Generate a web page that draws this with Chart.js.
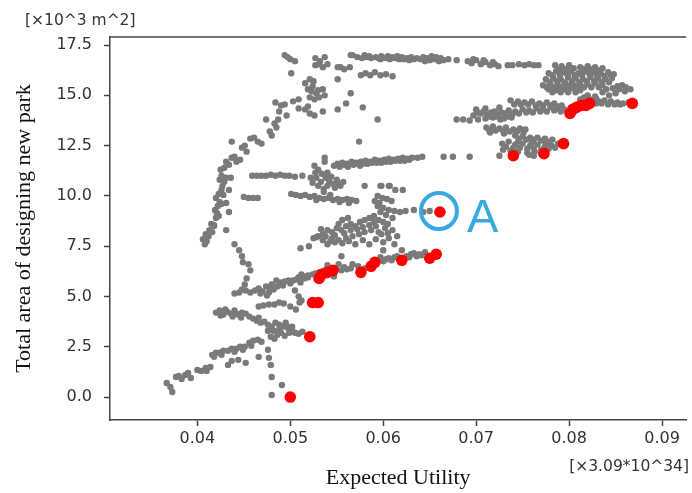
<!DOCTYPE html>
<html>
<head>
<meta charset="utf-8">
<script src="https://cdn.jsdelivr.net/npm/chart.js@4.4.1/dist/chart.umd.min.js"></script>
<style>
  html, body { margin: 0; padding: 0; background: #fff; }
</style>
</head>
<body>
<canvas id="chart" width="692" height="493"></canvas>
<script>
// Axis ticks and unit labels
const xTicks = [0.04, 0.05, 0.06, 0.07, 0.08, 0.09];
const yTicks = [0, 2.5, 5, 7.5, 10, 12.5, 15, 17.5];
const xUnit = '[×3.09*10^34]';
const yUnit = '[×10^3 m^2]';

// Highlighted solution "A"
const pointA = [0.0661, 9.2];

// Pareto (red) points
const redPoints = [
    [0.0500, 0.0], [0.0521, 3.0], [0.0524, 4.7], [0.0530, 4.7], [0.0531, 5.9],
    [0.0534, 6.1], [0.0540, 6.2], [0.0546, 6.3], [0.0576, 6.2], [0.0587, 6.5],
    [0.0591, 6.7], [0.0620, 6.8], [0.0650, 6.9], [0.0657, 7.1], [0.0661, 9.2],
    [0.0740, 12.0], [0.0773, 12.1], [0.0794, 12.6], [0.0801, 14.1], [0.0804, 14.3],
    [0.0808, 14.4], [0.0813, 14.5], [0.0818, 14.5], [0.0822, 14.6], [0.0868, 14.6]
];

// Gray solutions, grouped by the visible strands
const lowerArm = [
    [0.0367, 0.70], [0.0371, 0.50], [0.0373, 0.25], [0.0377, 1.00], [0.0380, 1.05],
    [0.0383, 0.90], [0.0387, 1.10], [0.0390, 1.20], [0.0393, 0.95], [0.0400, 1.35],
    [0.0404, 1.30], [0.0409, 1.45], [0.0410, 1.30], [0.0414, 1.50], [0.0416, 2.10],
    [0.0420, 2.20], [0.0424, 2.20], [0.0428, 2.30], [0.0433, 2.30], [0.0437, 2.40],
    [0.0442, 2.40], [0.0446, 2.50], [0.0451, 2.50], [0.0456, 2.70], [0.0460, 2.80],
    [0.0465, 2.85], [0.0469, 2.75], [0.0433, 1.60], [0.0437, 1.80], [0.0444, 1.85],
    [0.0452, 1.70], [0.0466, 2.00], [0.0418, 2.00], [0.0426, 2.10], [0.0440, 2.25],
    [0.0449, 2.35], [0.0458, 2.55]
];
const dropLine = [
    [0.0476, 2.35], [0.0477, 1.95], [0.0479, 1.60], [0.0480, 1.00], [0.0491, 0.60],
    [0.0480, 0.10]
];
const midLeft = [
    [0.0420, 4.20], [0.0424, 4.30], [0.0428, 4.10], [0.0432, 4.25], [0.0436, 4.15],
    [0.0440, 4.30], [0.0444, 4.10], [0.0448, 4.20], [0.0452, 4.15], [0.0456, 4.00],
    [0.0425, 4.05], [0.0438, 4.00], [0.0447, 3.95], [0.0460, 3.90], [0.0464, 3.80],
    [0.0468, 3.70], [0.0472, 3.75], [0.0476, 3.60], [0.0480, 3.50], [0.0484, 3.70],
    [0.0488, 3.60], [0.0492, 3.50], [0.0495, 3.70], [0.0498, 3.40], [0.0502, 3.30],
    [0.0505, 3.20], [0.0509, 3.15], [0.0476, 3.30], [0.0479, 3.00], [0.0483, 2.90],
    [0.0486, 3.10], [0.0490, 3.20], [0.0494, 3.05], [0.0499, 3.20], [0.0513, 3.25],
    [0.0430, 4.35], [0.0442, 4.15], [0.0466, 3.95], [0.0482, 3.30], [0.0488, 3.35],
    [0.0496, 3.55], [0.0502, 3.50]
];
const band46 = [
    [0.0466, 4.50], [0.0471, 4.55], [0.0477, 4.60], [0.0483, 4.60], [0.0488, 4.70],
    [0.0493, 4.65], [0.0500, 4.50], [0.0506, 4.35], [0.0510, 4.70]
];
const band55 = [
    [0.0452, 5.30], [0.0457, 5.20], [0.0462, 5.30], [0.0466, 5.40], [0.0470, 5.25],
    [0.0474, 5.50], [0.0478, 5.40], [0.0482, 5.35], [0.0486, 5.50], [0.0490, 5.70],
    [0.0494, 5.75], [0.0498, 5.80], [0.0503, 5.80], [0.0507, 5.85], [0.0511, 5.70],
    [0.0515, 5.90], [0.0519, 5.95], [0.0485, 5.80], [0.0480, 5.60], [0.0475, 5.05],
    [0.0445, 5.20], [0.0440, 5.15], [0.0468, 5.15], [0.0477, 5.20], [0.0492, 5.55],
    [0.0500, 5.65], [0.0509, 5.95]
];
const dotLine = [
    [0.0440, 7.60], [0.0445, 7.30], [0.0448, 7.00], [0.0449, 6.70], [0.0455, 6.60],
    [0.0457, 6.30], [0.0453, 5.90], [0.0451, 5.60], [0.0448, 5.35], [0.0505, 5.30],
    [0.0509, 5.00], [0.0512, 4.80]
];
const leftArm = [
    [0.0408, 7.60], [0.0406, 7.85], [0.0409, 8.10], [0.0412, 8.00], [0.0413, 8.30],
    [0.0415, 8.60], [0.0418, 8.50], [0.0420, 8.90], [0.0423, 9.00], [0.0419, 9.30],
    [0.0422, 9.50], [0.0424, 9.70], [0.0420, 9.90], [0.0423, 10.10], [0.0426, 10.30],
    [0.0427, 10.50], [0.0424, 10.80], [0.0426, 11.00], [0.0431, 10.90], [0.0436, 10.90],
    [0.0434, 10.30], [0.0431, 9.65], [0.0434, 9.20], [0.0425, 11.30], [0.0429, 11.40],
    [0.0431, 11.70], [0.0437, 11.90], [0.0442, 11.70], [0.0446, 11.80], [0.0448, 12.40],
    [0.0453, 12.20], [0.0437, 12.70], [0.0461, 12.90], [0.0465, 12.70], [0.0469, 12.60],
    [0.0474, 13.80], [0.0480, 13.00], [0.0485, 13.40], [0.0487, 13.80], [0.0496, 14.00],
    [0.0484, 14.65], [0.0490, 14.50], [0.0494, 14.55], [0.0431, 8.30], [0.0418, 8.55],
    [0.0410, 7.75], [0.0416, 8.20], [0.0421, 9.15], [0.0426, 9.60], [0.0428, 10.05],
    [0.0429, 10.70], [0.0434, 11.55], [0.0440, 11.95], [0.0451, 12.50], [0.0457, 12.85],
    [0.0478, 13.20], [0.0483, 13.60], [0.0488, 14.20]
];
const upperLeft = [
    [0.0494, 17.00], [0.0497, 16.90], [0.0500, 16.80], [0.0505, 16.70], [0.0501, 16.10],
    [0.0527, 16.85], [0.0532, 16.70], [0.0537, 16.90], [0.0527, 16.50], [0.0535, 16.40],
    [0.0540, 16.55], [0.0554, 16.40], [0.0564, 16.40], [0.0565, 17.00], [0.0551, 15.80],
    [0.0565, 15.10], [0.0560, 14.60], [0.0551, 14.30], [0.0535, 14.20], [0.0578, 14.40],
    [0.0594, 13.80], [0.0574, 12.70], [0.0537, 11.90], [0.0516, 15.60], [0.0521, 15.80],
    [0.0525, 15.70], [0.0519, 15.30], [0.0523, 15.20], [0.0528, 15.10], [0.0521, 14.90],
    [0.0526, 14.80], [0.0531, 14.90], [0.0535, 15.30], [0.0537, 15.00], [0.0503, 14.70],
    [0.0509, 14.80], [0.0509, 14.35], [0.0516, 14.30], [0.0521, 14.10], [0.0526, 14.00],
    [0.0519, 14.45], [0.0531, 16.55], [0.0524, 15.45], [0.0530, 15.25]
];
const row16 = [
    [0.0576, 16.00], [0.0581, 16.10], [0.0586, 16.00], [0.0591, 16.15], [0.0597, 16.00],
    [0.0603, 16.05], [0.0610, 15.95], [0.0551, 16.40], [0.0558, 16.30]
];
const topBand = [
    [0.0567, 17.00], [0.0572, 16.90], [0.0577, 16.85], [0.0580, 17.00], [0.0582, 16.90],
    [0.0587, 16.85], [0.0592, 16.90], [0.0597, 16.80], [0.0598, 16.95], [0.0602, 16.85],
    [0.0607, 16.80], [0.0612, 16.85], [0.0615, 16.95], [0.0617, 16.80], [0.0622, 16.80],
    [0.0628, 16.75], [0.0633, 16.80], [0.0640, 16.80], [0.0645, 16.70], [0.0647, 16.85],
    [0.0652, 16.95], [0.0655, 16.80], [0.0660, 16.70], [0.0662, 16.85], [0.0670, 16.80],
    [0.0679, 16.75], [0.0691, 16.70], [0.0695, 16.60], [0.0700, 16.75], [0.0705, 16.55],
    [0.0710, 16.65], [0.0715, 16.50], [0.0720, 16.55], [0.0724, 16.45], [0.0734, 16.50],
    [0.0739, 16.50], [0.0746, 16.55], [0.0752, 16.50], [0.0757, 16.55], [0.0762, 16.50],
    [0.0767, 16.50], [0.0585, 16.95], [0.0595, 16.85], [0.0605, 16.95], [0.0610, 16.90],
    [0.0620, 16.90], [0.0625, 16.85], [0.0630, 16.90], [0.0636, 16.85], [0.0643, 16.90],
    [0.0650, 16.75], [0.0657, 16.90], [0.0665, 16.75], [0.0697, 16.80], [0.0708, 16.75],
    [0.0718, 16.65]
];
const upperRight = [
    [0.0785, 16.50], [0.0792, 16.45], [0.0800, 16.50], [0.0812, 16.40], [0.0820, 16.45],
    [0.0828, 16.40], [0.0836, 16.35], [0.0778, 16.10], [0.0786, 16.20], [0.0794, 16.15],
    [0.0802, 16.20], [0.0810, 16.10], [0.0818, 16.20], [0.0826, 16.15], [0.0834, 16.10],
    [0.0842, 16.15], [0.0848, 16.05], [0.0775, 15.80], [0.0783, 15.85], [0.0791, 15.80],
    [0.0799, 15.90], [0.0807, 15.85], [0.0815, 15.80], [0.0823, 15.90], [0.0831, 15.85],
    [0.0839, 15.80], [0.0846, 15.85], [0.0772, 15.50], [0.0780, 15.55], [0.0788, 15.50],
    [0.0796, 15.60], [0.0804, 15.55], [0.0812, 15.50], [0.0820, 15.55], [0.0828, 15.60],
    [0.0836, 15.50], [0.0778, 15.30], [0.0786, 15.25], [0.0795, 15.30], [0.0803, 15.35],
    [0.0812, 15.25], [0.0840, 15.30], [0.0847, 15.35], [0.0854, 15.30], [0.0861, 15.40],
    [0.0866, 15.30], [0.0850, 15.10], [0.0843, 15.00], [0.0857, 15.50], [0.0820, 15.00],
    [0.0828, 14.95]
];
const upperRightFill = [
    [0.0789, 16.30], [0.0797, 16.30], [0.0805, 16.35], [0.0815, 16.30], [0.0823, 16.30],
    [0.0831, 16.25], [0.0782, 16.00], [0.0790, 16.00], [0.0798, 16.05], [0.0806, 16.00],
    [0.0814, 16.00], [0.0822, 16.05], [0.0830, 16.00], [0.0838, 15.95], [0.0845, 16.00],
    [0.0779, 15.65], [0.0787, 15.70], [0.0795, 15.65], [0.0803, 15.70], [0.0811, 15.65],
    [0.0819, 15.70], [0.0827, 15.70], [0.0835, 15.65], [0.0843, 15.65], [0.0776, 15.40],
    [0.0784, 15.40], [0.0792, 15.40], [0.0800, 15.45], [0.0808, 15.40], [0.0816, 15.40],
    [0.0824, 15.40], [0.0832, 15.40], [0.0782, 15.15], [0.0791, 15.15], [0.0799, 15.15],
    [0.0807, 15.15], [0.0836, 15.15], [0.0852, 15.45], [0.0860, 15.20]
];
const band146 = [
    [0.0737, 14.75], [0.0745, 14.70], [0.0752, 14.65], [0.0760, 14.70], [0.0768, 14.60],
    [0.0776, 14.65], [0.0784, 14.60], [0.0792, 14.50], [0.0812, 14.80], [0.0818, 14.75],
    [0.0825, 14.80], [0.0832, 14.70], [0.0838, 14.75], [0.0845, 14.70], [0.0852, 14.65],
    [0.0858, 14.60], [0.0864, 14.65], [0.0741, 14.55], [0.0748, 14.55], [0.0756, 14.55],
    [0.0764, 14.50], [0.0772, 14.50], [0.0780, 14.50], [0.0788, 14.45], [0.0815, 14.65],
    [0.0822, 14.65], [0.0829, 14.60], [0.0835, 14.60], [0.0842, 14.55], [0.0849, 14.55],
    [0.0855, 14.55], [0.0816, 14.90], [0.0829, 14.85]
];
const band141 = [
    [0.0697, 14.00], [0.0705, 14.10], [0.0712, 14.05], [0.0720, 14.20], [0.0727, 14.15],
    [0.0735, 14.25], [0.0742, 14.20], [0.0750, 14.30], [0.0757, 14.25], [0.0765, 14.35],
    [0.0772, 14.30], [0.0780, 14.40], [0.0787, 14.35], [0.0795, 14.30], [0.0702, 13.80],
    [0.0710, 13.85], [0.0718, 13.90], [0.0726, 13.80], [0.0734, 13.95], [0.0700, 14.30],
    [0.0710, 14.35], [0.0725, 14.40], [0.0679, 13.80], [0.0686, 13.80], [0.0693, 13.75],
    [0.0701, 14.15], [0.0708, 14.20], [0.0716, 14.15], [0.0724, 14.05], [0.0731, 14.10],
    [0.0739, 14.05], [0.0746, 14.10], [0.0754, 14.15], [0.0761, 14.15], [0.0769, 14.20],
    [0.0776, 14.20], [0.0784, 14.25], [0.0791, 14.20], [0.0714, 13.95], [0.0722, 13.95],
    [0.0730, 13.85], [0.0738, 13.90]
];
const band133 = [
    [0.0711, 13.40], [0.0718, 13.45], [0.0725, 13.35], [0.0732, 13.40], [0.0740, 13.30],
    [0.0747, 13.35], [0.0753, 13.30], [0.0715, 13.15], [0.0730, 13.10], [0.0742, 13.00],
    [0.0750, 12.95], [0.0758, 12.90], [0.0766, 12.90], [0.0774, 12.85], [0.0782, 12.80],
    [0.0714, 13.25], [0.0721, 13.25], [0.0729, 13.25], [0.0736, 13.20], [0.0744, 13.20],
    [0.0751, 13.15], [0.0746, 12.85], [0.0754, 12.80], [0.0762, 12.80], [0.0770, 12.75],
    [0.0778, 12.70]
];
const band125 = [
    [0.0728, 12.60], [0.0735, 12.70], [0.0742, 12.55], [0.0750, 12.60], [0.0758, 12.50],
    [0.0766, 12.55], [0.0774, 12.45], [0.0781, 12.50], [0.0788, 12.60], [0.0729, 12.30],
    [0.0737, 12.25], [0.0745, 12.20], [0.0755, 12.15], [0.0763, 12.20], [0.0770, 12.10],
    [0.0725, 12.00], [0.0757, 12.05], [0.0762, 12.00], [0.0732, 12.45], [0.0740, 12.40],
    [0.0747, 12.40], [0.0755, 12.35], [0.0762, 12.35], [0.0770, 12.30], [0.0778, 12.35],
    [0.0785, 12.40], [0.0745, 12.70], [0.0760, 12.65], [0.0775, 12.60]
];
const band117 = [
    [0.0551, 11.60], [0.0556, 11.65], [0.0561, 11.60], [0.0566, 11.70], [0.0571, 11.65],
    [0.0576, 11.70], [0.0581, 11.75], [0.0586, 11.70], [0.0591, 11.80], [0.0596, 11.75],
    [0.0601, 11.80], [0.0606, 11.85], [0.0611, 11.80], [0.0616, 11.85], [0.0621, 11.90],
    [0.0626, 11.85], [0.0631, 11.90], [0.0637, 11.90], [0.0642, 11.95], [0.0547, 11.50],
    [0.0562, 11.45], [0.0575, 11.50], [0.0665, 11.95], [0.0675, 11.95], [0.0693, 11.95],
    [0.0553, 11.45], [0.0558, 11.55], [0.0568, 11.55], [0.0573, 11.60], [0.0578, 11.60],
    [0.0583, 11.60], [0.0588, 11.65], [0.0593, 11.65], [0.0598, 11.65], [0.0603, 11.70],
    [0.0608, 11.70], [0.0613, 11.75], [0.0618, 11.75], [0.0623, 11.75], [0.0628, 11.80]
];
const band11 = [
    [0.0459, 11.00], [0.0464, 11.00], [0.0469, 11.00], [0.0474, 11.00], [0.0479, 11.05],
    [0.0484, 11.00], [0.0489, 11.05], [0.0494, 11.00], [0.0499, 11.00], [0.0505, 10.95],
    [0.0513, 11.00], [0.0526, 11.50], [0.0530, 11.30], [0.0534, 11.10], [0.0528, 10.90],
    [0.0533, 10.70], [0.0538, 10.90], [0.0542, 10.70], [0.0546, 10.60], [0.0550, 10.80],
    [0.0554, 10.50], [0.0540, 10.50], [0.0530, 10.50], [0.0522, 10.90], [0.0557, 10.70],
    [0.0537, 11.70], [0.0580, 10.50], [0.0597, 10.50], [0.0607, 10.50], [0.0524, 10.65],
    [0.0536, 10.35], [0.0544, 10.95], [0.0548, 10.40], [0.0552, 10.60], [0.0527, 11.15],
    [0.0540, 11.15]
];
const band10 = [
    [0.0450, 9.95], [0.0455, 9.90], [0.0460, 9.90], [0.0465, 9.90], [0.0501, 10.10],
    [0.0506, 10.05], [0.0511, 10.00], [0.0516, 10.05], [0.0521, 9.95], [0.0526, 10.00],
    [0.0531, 9.90], [0.0536, 9.85], [0.0541, 9.90], [0.0546, 9.80], [0.0551, 9.85],
    [0.0556, 9.80], [0.0561, 9.85], [0.0566, 9.80], [0.0571, 9.75], [0.0536, 10.20],
    [0.0528, 9.80], [0.0543, 10.05], [0.0553, 9.70], [0.0563, 9.65]
];
const clusterA = [
    [0.0598, 10.50], [0.0606, 10.50], [0.0613, 10.30], [0.0621, 10.30], [0.0594, 10.00],
    [0.0599, 9.90], [0.0604, 9.85], [0.0609, 9.75], [0.0594, 9.50], [0.0600, 9.40],
    [0.0606, 9.30], [0.0612, 9.25], [0.0618, 9.20], [0.0633, 9.30], [0.0643, 9.20],
    [0.0650, 9.25], [0.0590, 9.00], [0.0595, 8.80], [0.0600, 8.70], [0.0605, 8.60],
    [0.0610, 8.90], [0.0591, 9.75], [0.0597, 9.20], [0.0603, 9.05], [0.0596, 9.65],
    [0.0624, 9.25]
];
const midCluster = [
    [0.0525, 7.90], [0.0530, 8.00], [0.0535, 8.10], [0.0540, 8.30], [0.0545, 8.20],
    [0.0550, 8.40], [0.0555, 8.30], [0.0560, 8.50], [0.0565, 8.60], [0.0570, 8.50],
    [0.0575, 8.70], [0.0580, 8.80], [0.0585, 8.90], [0.0590, 8.70], [0.0556, 8.80],
    [0.0562, 8.90], [0.0535, 7.80], [0.0545, 7.90], [0.0552, 7.80], [0.0560, 7.90],
    [0.0567, 8.00], [0.0574, 8.10], [0.0580, 8.20], [0.0587, 8.30], [0.0595, 8.20],
    [0.0602, 8.40], [0.0610, 8.30], [0.0540, 7.60], [0.0548, 7.70], [0.0570, 7.60],
    [0.0585, 7.60], [0.0600, 7.70], [0.0612, 7.60], [0.0520, 7.50], [0.0511, 7.40],
    [0.0528, 7.95], [0.0538, 8.00], [0.0548, 8.05], [0.0558, 8.15], [0.0565, 8.30],
    [0.0572, 8.35], [0.0578, 8.45], [0.0585, 8.55], [0.0592, 8.50], [0.0598, 8.10],
    [0.0605, 8.15], [0.0615, 8.00], [0.0543, 7.75], [0.0556, 7.65], [0.0563, 7.75],
    [0.0578, 7.80], [0.0592, 7.85], [0.0606, 7.90], [0.0533, 8.35], [0.0552, 8.60]
];
const lowBand = [
    [0.0509, 5.95], [0.0514, 6.00], [0.0519, 6.05], [0.0524, 6.10], [0.0531, 6.20],
    [0.0537, 6.30], [0.0543, 6.35], [0.0549, 6.40], [0.0555, 6.30], [0.0561, 6.35],
    [0.0567, 6.60], [0.0573, 6.50], [0.0580, 6.40], [0.0594, 6.80], [0.0600, 6.75],
    [0.0606, 6.90], [0.0612, 6.95], [0.0625, 7.00], [0.0630, 7.10], [0.0636, 7.00],
    [0.0641, 7.05], [0.0645, 7.20], [0.0547, 6.00], [0.0540, 6.55], [0.0552, 6.60],
    [0.0600, 7.30], [0.0620, 7.30], [0.0555, 7.00], [0.0512, 6.10], [0.0527, 6.15],
    [0.0558, 6.45], [0.0565, 6.40], [0.0597, 6.95], [0.0603, 6.85], [0.0609, 6.80],
    [0.0615, 7.00], [0.0628, 6.95], [0.0633, 7.15], [0.0639, 7.10]
];

const grayPoints = [].concat(
    lowerArm, dropLine, midLeft, band46, band55, dotLine, leftArm, upperLeft,
    row16, topBand, upperRight, upperRightFill, band146, band141, band133, band125,
    band117, band11, band10, clusterA, midCluster, lowBand
);

const toXY = pts => pts.map(p => ({ x: p[0], y: p[1] }));

// Extra drawing: top spine, unit labels, annotation A
const extrasPlugin = {
    id: 'extras',
    afterDraw(chart) {
        const { ctx, chartArea, scales } = chart;
        ctx.save();
        ctx.strokeStyle = '#444';
        ctx.lineWidth = 1.5;
        ctx.beginPath();
        ctx.moveTo(chartArea.left, chartArea.top);
        ctx.lineTo(chartArea.right, chartArea.top);
        ctx.stroke();

        ctx.fillStyle = '#333';
        ctx.font = '15.5px "DejaVu Sans"';
        ctx.textBaseline = 'middle';
        ctx.textAlign = 'left';
        ctx.fillText(yUnit, 25, 21);
        ctx.textAlign = 'right';
        ctx.fillText(xUnit, 689, 467);

        const cx = scales.x.getPixelForValue(pointA[0]);
        const cy = scales.y.getPixelForValue(pointA[1]);
        ctx.strokeStyle = '#3aa8e0';
        ctx.lineWidth = 4;
        ctx.beginPath();
        ctx.arc(cx - 1, cy - 1, 18, 0, Math.PI * 2);
        ctx.stroke();
        ctx.fillStyle = '#3aa8e0';
        ctx.font = '47px "Liberation Sans"';
        ctx.textAlign = 'left';
        ctx.textBaseline = 'alphabetic';
        ctx.fillText('A', cx + 27, cy + 20);
        ctx.restore();
    }
};

const tickFont = { family: 'DejaVu Sans', size: 16 };
const titleFont = { family: 'Liberation Serif', size: 22 };

new Chart(document.getElementById('chart').getContext('2d'), {
    type: 'scatter',
    data: {
        datasets: [{
            label: 'Pareto',
            data: toXY(redPoints),
            backgroundColor: '#ff0000',
            borderWidth: 0,
            pointRadius: 5.8
        }, {
            label: 'Solutions',
            data: toXY(grayPoints),
            backgroundColor: '#7a7a7a',
            borderWidth: 0,
            pointRadius: 3.2
        }]
    },
    options: {
        responsive: false,
        animation: false,
        layout: { padding: { top: 37, right: 0, bottom: 0, left: 0 } },
        plugins: {
            legend: { display: false },
            tooltip: { enabled: false }
        },
        scales: {
            x: {
                type: 'linear',
                min: 0.0306,
                max: 0.0926,
                afterBuildTicks: s => { s.ticks = xTicks.map(v => ({ value: v })); },
                afterFit: s => { s.height = 73; },
                ticks: {
                    callback: v => v.toFixed(2),
                    font: tickFont,
                    color: '#333',
                    padding: 3,
                    maxRotation: 0,
                    autoSkip: false
                },
                grid: { drawOnChartArea: false, tickLength: 6, tickColor: '#444', tickWidth: 1.5 },
                border: { color: '#444', width: 1.5 },
                title: {
                    display: true,
                    text: 'Expected Utility',
                    font: titleFont,
                    color: '#111',
                    padding: { top: 0, bottom: 2 }
                }
            },
            y: {
                type: 'linear',
                min: -1.14,
                max: 17.9,
                afterBuildTicks: s => { s.ticks = yTicks.map(v => ({ value: v })); },
                afterFit: s => { s.width = 110; },
                ticks: {
                    callback: v => v.toFixed(1),
                    font: tickFont,
                    color: '#333',
                    padding: 12
                },
                grid: { drawOnChartArea: false, tickLength: 6, tickColor: '#444', tickWidth: 1.5 },
                border: { color: '#444', width: 1.5 },
                title: {
                    display: true,
                    text: 'Total area of designing new park',
                    font: titleFont,
                    color: '#111',
                    padding: { top: 11, bottom: 0 }
                }
            }
        }
    },
    plugins: [extrasPlugin]
});
</script>
</body>
</html>
